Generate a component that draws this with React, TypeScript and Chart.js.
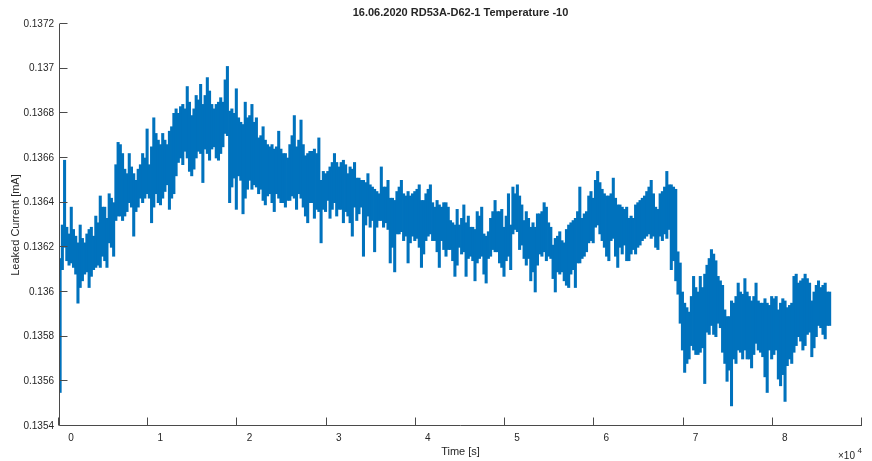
import { useEffect, useRef } from 'react';
import { Chart, registerables } from 'chart.js';

Chart.register(...registerables);

// Leakage current of RD53A-D62-1 at -10 °C, summarised as min/max per 250 s time bin.
const BIN_SECONDS = 250;

// Lower edge of each bin, in µA
const lowUA = [
  135.55, 136.10, 136.20, 136.14, 136.12, 136.13, 136.11, 136.08, 135.95, 136.02,
  136.05, 136.08, 136.09, 136.02, 136.07, 136.10, 136.11, 136.12, 136.11, 136.16,
  136.14, 136.11, 136.22, 136.20, 136.16, 136.32, 136.34, 136.34, 136.32, 136.34,
  136.36, 136.40, 136.38, 136.25, 136.36, 136.38, 136.42, 136.40, 136.42, 136.44,
  136.42, 136.31, 136.38, 136.44, 136.40, 136.39, 136.42, 136.45, 136.48, 136.37,
  136.42, 136.44, 136.52, 136.58, 136.60, 136.57,
  136.63, 136.60, 136.54, 136.52, 136.55, 136.60, 136.63, 136.62, 136.49, 136.64,
  136.62, 136.59, 136.64, 136.65, 136.60, 136.59, 136.62, 136.65, 136.71, 136.70,
  136.40, 136.47, 136.51, 136.37, 136.52, 136.50, 136.35, 136.42, 136.46, 136.50,
  136.46, 136.48, 136.47, 136.44, 136.46, 136.41, 136.39, 136.43, 136.44, 136.40,
  136.36, 136.44, 136.42, 136.40, 136.40, 136.38, 136.41, 136.41, 136.43, 136.42,
  136.37, 136.44, 136.42, 136.38, 136.34, 136.31, 136.40, 136.40,
  136.33, 136.37, 136.36, 136.22, 136.37, 136.36, 136.41, 136.33, 136.37, 136.40,
  136.34, 136.37, 136.37, 136.31, 136.36, 136.34, 136.31, 136.25, 136.38, 136.32,
  136.35, 136.38, 136.16, 136.30, 136.34, 136.29, 136.32, 136.18, 136.29, 136.32,
  136.32, 136.29, 136.31, 136.28, 136.13, 136.20, 136.09, 136.26, 136.26, 136.27,
  136.23, 136.25, 136.13, 136.22, 136.25, 136.23, 136.24, 136.20, 136.11, 136.17,
  136.23, 136.25, 136.26, 136.23, 136.23, 136.18, 136.11, 136.23,
  136.19, 136.16, 136.19, 136.19, 136.14, 136.07, 136.12, 136.20, 136.17, 136.18,
  136.07, 136.15, 136.16, 136.14, 136.05, 136.13, 136.15, 136.16, 136.08, 136.04,
  136.15, 136.16, 136.19, 136.18, 136.18, 136.13, 136.11, 136.07, 136.14, 136.16,
  136.10, 136.26, 136.28, 136.27, 136.19, 136.21, 136.15, 136.12, 136.15, 136.05,
  136.09, 136.00, 136.12, 136.17, 136.16, 136.18, 136.14, 136.16, 136.15, 136.06,
  136.00, 136.09, 136.08, 136.09, 136.05, 136.03, 136.02, 136.08, 136.10,
  136.02, 136.13, 136.13, 136.15, 136.16, 136.18, 136.22, 136.23, 136.22, 136.29,
  136.30, 136.26, 136.23, 136.20, 136.16, 136.14, 136.23, 136.24, 136.16, 136.11,
  136.20, 136.17, 136.21, 136.14, 136.14, 136.17, 136.19, 136.17, 136.20, 136.21,
  136.23, 136.24, 136.25, 136.26, 136.24, 136.25, 136.20, 136.19, 136.25, 136.23,
  136.26, 136.24, 136.28, 136.10, 136.14, 136.05, 135.99, 135.86, 135.74, 135.64,
  135.68, 135.70, 135.76, 135.74, 135.72, 135.72, 135.73, 135.75,
  135.59, 135.82, 135.81, 135.85, 135.81, 135.80, 135.86, 135.84, 135.73, 135.68,
  135.60, 135.65, 135.49, 135.70, 135.68, 135.74, 135.73, 135.70, 135.74, 135.70,
  135.70, 135.66, 135.72, 135.77, 135.74, 135.73, 135.71, 135.62, 135.55, 135.74,
  135.70, 135.72, 135.74, 135.61, 135.58, 135.63, 135.51, 135.67, 135.70, 135.68,
  135.73, 135.76, 135.80, 135.78, 135.74, 135.76, 135.81, 135.82, 135.71, 135.75,
  135.80, 135.85, 135.84, 135.81, 135.79, 135.85, 135.85,
];

// Upper edge of each bin, in µA
const highUA = [
  136.15, 136.30, 136.59, 136.29, 136.26, 136.38, 136.28, 136.25, 136.22, 136.30,
  136.24, 136.22, 136.26, 136.28, 136.29, 136.25, 136.34, 136.31, 136.43, 136.38,
  136.38, 136.33, 136.44, 136.42, 136.40, 136.57, 136.67, 136.66, 136.62, 136.55,
  136.53, 136.62, 136.56, 136.53, 136.50, 136.55, 136.57, 136.62, 136.60, 136.73,
  136.57, 136.65, 136.78, 136.71, 136.68, 136.66, 136.71, 136.68, 136.66, 136.72,
  136.74, 136.80, 136.82, 136.80, 136.83, 136.84,
  136.82, 136.92, 136.85, 136.79, 136.82, 136.88, 136.86, 136.93, 136.84, 136.88,
  136.96, 136.90, 136.84, 136.82, 136.84, 136.85, 136.87, 136.85, 136.95, 137.01,
  136.81, 136.82, 136.80, 136.91, 136.78, 136.76, 136.75, 136.85, 136.78, 136.79,
  136.84, 136.76, 136.78, 136.69, 136.70, 136.74, 136.68, 136.66, 136.65, 136.66,
  136.64, 136.65, 136.72, 136.64, 136.62, 136.62, 136.60, 136.66, 136.70, 136.79,
  136.65, 136.68, 136.77, 136.66, 136.61, 136.62, 136.63, 136.63,
  136.64, 136.62, 136.69, 136.50, 136.54, 136.53, 136.54, 136.56, 136.58, 136.62,
  136.58, 136.56, 136.58, 136.59, 136.57, 136.53, 136.56, 136.55, 136.58, 136.51,
  136.51, 136.50, 136.50, 136.49, 136.53, 136.48, 136.47, 136.46, 136.45, 136.44,
  136.56, 136.47, 136.47, 136.50, 136.42, 136.42, 136.41, 136.45, 136.47, 136.50,
  136.44, 136.43, 136.45, 136.43, 136.44, 136.45, 136.46, 136.48, 136.41, 136.41,
  136.44, 136.46, 136.48, 136.40, 136.38, 136.41, 136.39, 136.38,
  136.40, 136.40, 136.38, 136.32, 136.31, 136.30, 136.37, 136.30, 136.33, 136.39,
  136.31, 136.34, 136.29, 136.29, 136.28, 136.36, 136.34, 136.38, 136.26, 136.25,
  136.27, 136.33, 136.36, 136.41, 136.36, 136.36, 136.37, 136.29, 136.34, 136.44,
  136.30, 136.47, 136.44, 136.48, 136.43, 136.39, 136.32, 136.36, 136.33, 136.29,
  136.31, 136.29, 136.35, 136.35, 136.36, 136.40, 136.38, 136.31, 136.29, 136.21,
  136.24, 136.25, 136.27, 136.23, 136.22, 136.28, 136.30, 136.31, 136.32,
  136.33, 136.36, 136.47, 136.33, 136.35, 136.36, 136.43, 136.45, 136.42, 136.50,
  136.54, 136.49, 136.46, 136.44, 136.43, 136.43, 136.44, 136.51, 136.42, 136.39,
  136.39, 136.38, 136.37, 136.38, 136.33, 136.34, 136.33, 136.39, 136.40, 136.41,
  136.42, 136.43, 136.45, 136.47, 136.50, 136.44, 136.38, 136.37, 136.44, 136.45,
  136.47, 136.54, 136.48, 136.48, 136.47, 136.46, 136.18, 136.13, 136.00, 135.95,
  135.93, 135.91, 135.98, 136.07, 136.02, 136.00, 136.07, 136.02,
  136.08, 136.12, 136.15, 136.19, 136.17, 136.14, 136.07, 136.05, 136.03, 135.92,
  135.89, 135.89, 135.96, 135.95, 135.98, 136.04, 136.00, 135.99, 136.06, 136.00,
  135.98, 135.96, 135.98, 136.04, 135.96, 135.95, 135.95, 135.97, 135.95, 135.94,
  135.98, 135.97, 135.98, 135.92, 135.95, 135.97, 135.96, 135.93, 135.94, 135.95,
  136.07, 136.08, 136.04, 136.05, 136.06, 136.08, 136.06, 136.04, 135.96, 136.00,
  136.03, 136.05, 136.02, 136.03, 136.04, 136.00, 136.00,
];

const xTickValues = [0, 10000, 20000, 30000, 40000, 50000, 60000, 70000, 80000, 90000];
const yTickValues = [0.1354, 0.1356, 0.1358, 0.136, 0.1362, 0.1364, 0.1366, 0.1368, 0.137, 0.1372];

const TITLE = '16.06.2020 RD53A-D62-1 Temperature -10';
const X_LABEL = 'Time [s]';
const Y_LABEL = 'Leaked Current [mA]';

const FONT = '"Liberation Sans", Arial, Helvetica, sans-serif';
const TEXT_COLOR = '#262626';
const AXIS_COLOR = '#4a4a4a';
const MARK_COLOR = '#0072BD';
const TICK_LEN = 8;

// Axis lines, inward tick marks, title, axis titles and the x10^4 multiplier.
const frameAndText = {
  id: 'frameAndText',
  afterDraw(chart: any) {
    const { ctx, chartArea: a, scales } = chart;
    ctx.save();
    ctx.strokeStyle = AXIS_COLOR;
    ctx.lineWidth = 1;
    ctx.beginPath();
    const bx = a.left + 0.5;
    const by = a.bottom - 0.5;
    ctx.moveTo(bx, a.top);
    ctx.lineTo(bx, by);
    ctx.lineTo(a.right, by);
    for (const t of scales.x.ticks) {
      const px = Math.round(scales.x.getPixelForValue(t.value)) - 0.5;
      ctx.moveTo(px, by);
      ctx.lineTo(px, by - TICK_LEN);
    }
    for (const t of scales.y.ticks) {
      const py = Math.round(scales.y.getPixelForValue(t.value)) - 0.5;
      ctx.moveTo(bx, py);
      ctx.lineTo(bx + TICK_LEN, py);
    }
    ctx.stroke();

    ctx.fillStyle = TEXT_COLOR;
    const cx = (a.left + a.right) / 2;

    ctx.font = `bold 11px ${FONT}`;
    ctx.textAlign = 'center';
    ctx.textBaseline = 'alphabetic';
    ctx.fillText(TITLE, cx, 16);

    ctx.font = `11px ${FONT}`;
    ctx.textBaseline = 'middle';
    ctx.fillText(X_LABEL, cx, 452);

    ctx.save();
    ctx.translate(16, (a.top + a.bottom) / 2);
    ctx.rotate(-Math.PI / 2);
    ctx.fillText(Y_LABEL, 0, 0);
    ctx.restore();

    ctx.textAlign = 'left';
    ctx.textBaseline = 'alphabetic';
    ctx.font = `10px ${FONT}`;
    ctx.fillText('\u00d710', 838, 458.5);
    ctx.font = `8px ${FONT}`;
    ctx.fillText('4', 857.5, 452.5);
    ctx.restore();
  },
};

export default function App() {
  const canvasRef = useRef<HTMLCanvasElement | null>(null);

  useEffect(() => {
    const canvas = canvasRef.current;
    if (!canvas) return;
    const points = lowUA.map((lo, i) => ({
      x: (i + 0.5) * BIN_SECONDS,
      y: [lo / 1000, highUA[i] / 1000],
    }));

    const chart = new Chart(canvas, {
      type: 'bar',
      data: {
        datasets: [
          {
            data: points as any,
            backgroundColor: MARK_COLOR,
            borderWidth: 0,
            barThickness: 2.4,
            grouped: false,
          } as any,
        ],
      },
      options: {
        responsive: false,
        animation: false,
        devicePixelRatio: 1,
        layout: { padding: { top: 24, right: 10, left: 0, bottom: 0 } },
        plugins: {
          legend: { display: false },
          title: { display: false },
          tooltip: { enabled: false },
        },
        scales: {
          x: {
            type: 'linear',
            min: 0,
            max: 90000,
            offset: false,
            grid: { display: false, drawTicks: false },
            border: { display: false },
            afterBuildTicks: (s: any) => {
              s.ticks = xTickValues.map((v) => ({ value: v }));
            },
            afterFit: (s: any) => {
              s.height = 35;
            },
            ticks: {
              autoSkip: false,
              maxRotation: 0,
              labelOffset: 12,
              padding: 6,
              color: TEXT_COLOR,
              font: { family: FONT, size: 10 },
              callback: (v: any) => (v >= 90000 ? '' : String(v / 10000)),
            },
          },
          y: {
            type: 'linear',
            min: 0.1354,
            max: 0.1372,
            grid: { display: false, drawTicks: false },
            border: { display: false },
            afterBuildTicks: (s: any) => {
              s.ticks = yTickValues.map((v) => ({ value: v }));
            },
            afterFit: (s: any) => {
              s.width = 59;
            },
            ticks: {
              autoSkip: false,
              padding: 5,
              color: TEXT_COLOR,
              font: { family: FONT, size: 10 },
              callback: (v: any) => String(Number(Number(v).toFixed(4))),
            },
          },
        },
      },
      plugins: [frameAndText],
    });

    return () => chart.destroy();
  }, []);

  return (
    <div style={{ position: 'fixed', left: 0, top: 0, width: 872, height: 461, background: '#ffffff' }}>
      <canvas ref={canvasRef} width={872} height={461} />
    </div>
  );
}
